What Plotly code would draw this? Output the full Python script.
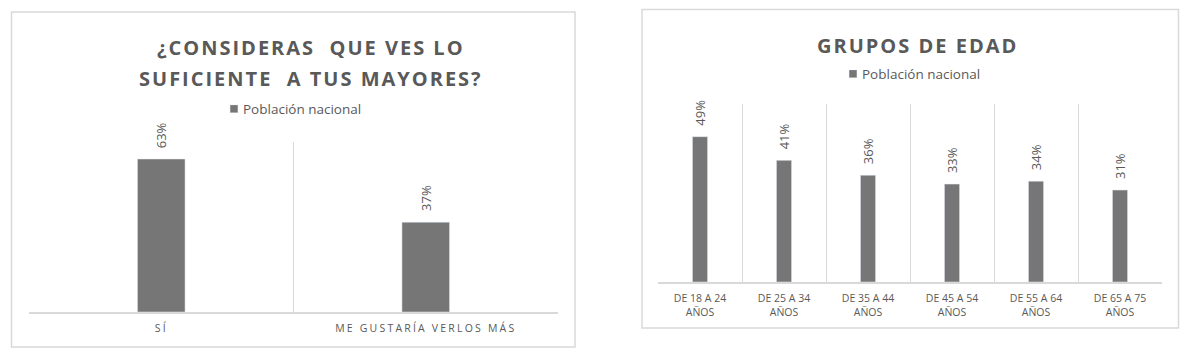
import json
import plotly.graph_objects as go

# Data
cats_left = ["SÍ", "ME GUSTARÍA VERLOS MÁS"]
vals_left = [0.63, 0.37]
cats_right = ["DE 18 A 24<br>AÑOS", "DE 25 A 34<br>AÑOS", "DE 35 A 44<br>AÑOS",
              "DE 45 A 54<br>AÑOS", "DE 55 A 64<br>AÑOS", "DE 65 A 75<br>AÑOS"]
vals_right = [0.49, 0.41, 0.36, 0.33, 0.34, 0.31]
series_name = "Población nacional"
title_left = ["¿CONSIDERAS  QUE VES LO", "SUFICIENTE  A TUS MAYORES?"]
title_right = "GRUPOS DE EDAD"

W, H = 1190, 359
BAR = "#767676"
TXT = "#595959"
GRID = "#d9d9d9"
FONT = "Open Sans"


def px(x):
    return x / W


def py(y):
    return 1 - y / H


fig = go.Figure()
fig.add_trace(go.Bar(x=cats_left, y=vals_left, name=series_name, marker_color=BAR,
                     xaxis="x", yaxis="y", legend="legend", showlegend=True, hoverinfo="x+y"))
fig.add_trace(go.Bar(x=cats_right, y=vals_right, name=series_name, marker_color=BAR,
                     xaxis="x2", yaxis="y2", legend="legend2", showlegend=True, hoverinfo="x+y"))

annotations = []
# data labels, placed through the axes
for xa, ya, cats, vals in (("x", "y", cats_left, vals_left), ("x2", "y2", cats_right, vals_right)):
    for c, v in zip(cats, vals):
        annotations.append(dict(text=f"{round(v * 100)}%", x=c, y=v, xref=xa, yref=ya, showarrow=False,
                                textangle=-90, xanchor="center", yanchor="bottom", yshift=9,
                                font=dict(family=FONT, size=13, color=TXT)))

title_font = dict(family=FONT, size=20, color=TXT, weight="bold")
annotations += [
    dict(text=title_left[0], x=px(311), y=py(48), xref="paper", yref="paper", showarrow=False,
         xanchor="center", yanchor="middle", font=title_font),
    dict(text=title_left[1], x=px(311), y=py(78), xref="paper", yref="paper", showarrow=False,
         xanchor="center", yanchor="middle", font=title_font),
    dict(text=title_right, x=px(917), y=py(45), xref="paper", yref="paper", showarrow=False,
         xanchor="center", yanchor="middle", font=title_font),
]

xcommon = dict(type="category", tickson="boundaries", showgrid=True, gridcolor=GRID, gridwidth=1,
               showline=True, linecolor=GRID, linewidth=1.5, ticks="", zeroline=False,
               tickfont=dict(family=FONT, size=10.5, color=TXT), ticklabelstandoff=6)
ycommon = dict(showticklabels=False, showgrid=False, zeroline=False, showline=False)

legend_font = dict(family=FONT, size=13.5, color=TXT)

fig.update_layout(
    width=W, height=H, margin=dict(l=0, r=0, t=0, b=0),
    paper_bgcolor="white", plot_bgcolor="white", bargap=0.82,
    xaxis=dict(domain=[px(29), px(558)], anchor="y", **xcommon),
    yaxis=dict(domain=[py(312), py(142)], range=[0, 0.7], anchor="x", **ycommon),
    xaxis2=dict(domain=[px(658), px(1162)], anchor="y2", **xcommon),
    yaxis2=dict(domain=[py(282), py(104)], range=[0, 0.6], anchor="x2", **ycommon),
    legend=dict(x=px(243 - 40), y=py(109), xanchor="left", yanchor="middle", orientation="h",
                font=legend_font, bgcolor="rgba(0,0,0,0)", itemwidth=30),
    legend2=dict(x=px(862 - 40), y=py(74), xanchor="left", yanchor="middle", orientation="h",
                 font=legend_font, bgcolor="rgba(0,0,0,0)", itemwidth=30),
    shapes=[
        dict(type="rect", xref="paper", yref="paper", x0=px(11.5), x1=px(575), y0=py(347), y1=py(12),
             line=dict(color=GRID, width=1.5)),
        dict(type="rect", xref="paper", yref="paper", x0=px(642), x1=px(1178.5), y0=py(328), y1=py(9.5),
             line=dict(color=GRID, width=1.5)),
    ],
    annotations=annotations,
)

titles_js = json.dumps(title_left + [title_right])
post = """
document.body.style.margin = '0';
document.body.style.overflow = 'hidden';
var T = %s;
function restyleText() {
  document.querySelectorAll('.xtick text, .xtick tspan').forEach(function(t){
    t.style.letterSpacing = '2.2px';
    t.setAttribute('letter-spacing', '2.2px');
  });
  document.querySelectorAll('.annotation-text').forEach(function(t){
    if (T.indexOf(t.textContent) >= 0) { t.style.letterSpacing = '2px'; }
  });
  document.querySelectorAll('.legendpoints path').forEach(function(p){
    var tr = p.getAttribute('transform') || '';
    if (tr.indexOf('scale') < 0) {
      p.setAttribute('transform', tr + ' translate(11,0) scale(0.65)');
    }
  });
}
restyleText();
var gd = document.getElementById('{plot_id}');
if (gd && gd.on) { gd.on('plotly_afterplot', restyleText); }
setTimeout(restyleText, 50);
setTimeout(restyleText, 300);
""" % titles_js

fig.write_html("out.html", post_script=post, config={"displayModeBar": False})
